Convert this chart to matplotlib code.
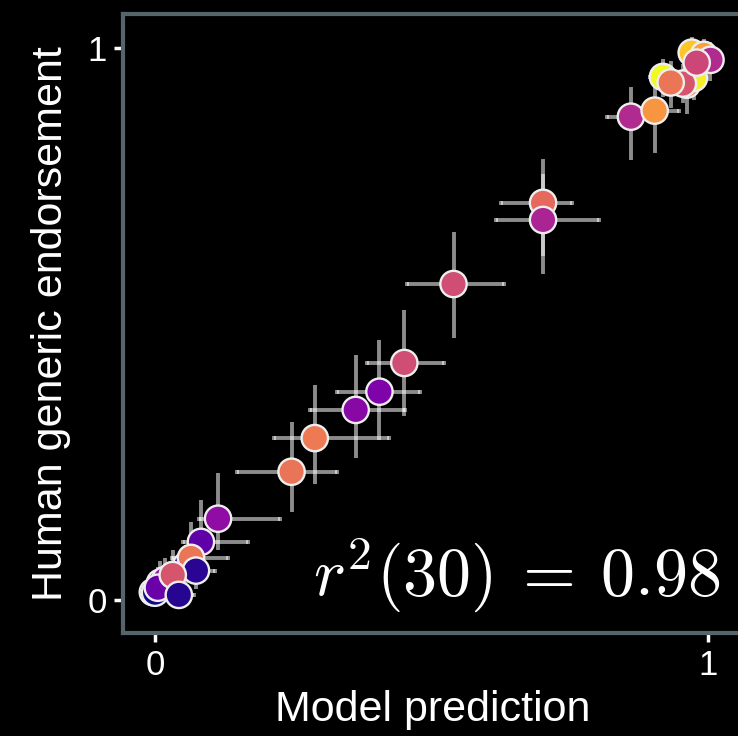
import matplotlib
matplotlib.use("Agg")
import matplotlib.pyplot as plt
import numpy as np

# Per-item model predictions vs. human generic endorsement (with interval bounds)
model = [-0.004, 0.009, 0.962, 0.984, 0.056, 0.018,
         0.702, 0.702, 0.540, 0.451, 0.406, 0.363, 0.289, 0.247,
         0.114, 0.083, 0.065, 0.074, 0.000, 0.005, 0.032, 0.043,
         0.861, 0.904, 0.919, 0.975, 0.955, 0.933, 0.971, 0.993,
         1.005, 0.980]
human = [0.014, 0.031, 0.933, 0.982, 0.062, 0.036,
         0.719, 0.688, 0.572, 0.429, 0.377, 0.344, 0.293, 0.232,
         0.147, 0.105, 0.076, 0.053, 0.013, 0.022, 0.045, 0.009,
         0.875, 0.886, 0.947, 0.945, 0.935, 0.937, 0.991, 0.987,
         0.978, 0.973]
model_lo = [-0.015, -0.005, 0.940, 0.965, 0.030, 0.000,
            0.626, 0.616, 0.455, 0.383, 0.329, 0.280, 0.215, 0.148,
            0.080, 0.050, 0.030, 0.045, -0.010, -0.010, 0.010, 0.020,
            0.818, 0.870, 0.895, 0.950, 0.930, 0.905, 0.950, 0.975,
            0.985, 0.960]
model_hi = [0.010, 0.030, 0.985, 1.000, 0.085, 0.040,
            0.754, 0.803, 0.632, 0.523, 0.480, 0.453, 0.424, 0.330,
            0.226, 0.168, 0.132, 0.108, 0.020, 0.025, 0.060, 0.070,
            0.900, 0.948, 0.940, 0.995, 0.975, 0.960, 0.990, 1.010,
            1.020, 1.000]
human_lo = [-0.005, 0.010, 0.880, 0.945, 0.030, 0.015,
            0.623, 0.591, 0.475, 0.333, 0.290, 0.257, 0.210, 0.159,
            0.090, 0.060, 0.040, 0.020, -0.005, 0.000, 0.010, -0.010,
            0.797, 0.810, 0.910, 0.905, 0.900, 0.890, 0.955, 0.945,
            0.940, 0.930]
human_hi = [0.040, 0.070, 0.965, 1.010, 0.100, 0.075,
            0.799, 0.772, 0.667, 0.525, 0.470, 0.444, 0.389, 0.322,
            0.230, 0.181, 0.141, 0.100, 0.050, 0.060, 0.090, 0.040,
            0.928, 0.930, 0.980, 0.985, 0.970, 0.975, 1.020, 1.015,
            1.010, 1.005]
shade = [0.08, 0.12, 0.72, 0.60, 0.10, 0.30,
         0.62, 0.38, 0.52, 0.52, 0.25, 0.28, 0.67, 0.65,
         0.30, 0.17, 0.66, 0.05, 0.00, 0.20, 0.55, 0.04,
         0.40, 0.75, 1.00, 0.98, 0.55, 0.66, 0.88, 0.78,
         0.40, 0.50]

x_ticks = [0, 1]
y_ticks = [0, 1]
stat_label = r"$r^2(30)\:=\:0.98$"

plt.rcParams["font.family"] = ["Liberation Sans", "DejaVu Sans"]
plt.rcParams["mathtext.fontset"] = "cm"

fig = plt.figure(figsize=(7.38, 7.36), dpi=100, facecolor="black")
ax = fig.add_axes([123 / 738, 103 / 736, 619 / 738, 619 / 736], facecolor="black")

x = np.array(model)
y = np.array(human)
xerr = np.vstack([x - np.array(model_lo), np.array(model_hi) - x])
yerr = np.vstack([y - np.array(human_lo), np.array(human_hi) - y])

bar_color = (1, 1, 1, 0.55)
ax.errorbar(x, y, xerr=xerr, fmt="none", ecolor=bar_color, elinewidth=2.8,
            capsize=1.6, capthick=2.8, zorder=1)
ax.errorbar(x, y, yerr=yerr, fmt="none", ecolor=bar_color, elinewidth=2.8,
            capsize=0, zorder=1)

cmap = plt.get_cmap("plasma")
ax.scatter(x, y, s=360, c=[cmap(v) for v in shade], edgecolors="#eeeeee",
           linewidths=1.7, zorder=3)

ax.text(1.022, 0.009, stat_label, ha="right", va="baseline", color="white",
        fontsize=49, zorder=5)

ax.set_xlim(-0.058, 1.062)
ax.set_ylim(-0.060, 1.061)
ax.set_xticks(x_ticks)
ax.set_yticks(y_ticks)
ax.set_xticklabels([str(t) for t in x_ticks])
ax.set_yticklabels([str(t) for t in y_ticks])
ax.tick_params(colors="white", labelcolor="white", labelsize=25, length=6.5,
               width=2.5, pad=5)

spine_color = "#56656b"
for side in ["left", "bottom", "top", "right"]:
    ax.spines[side].set_color(spine_color)
    ax.spines[side].set_linewidth(3)

ax.set_xlabel("Model prediction", color="white", fontsize=31, labelpad=6)
ax.set_ylabel("Human generic endorsement", color="white", fontsize=31, labelpad=12)

fig.savefig("out.png", dpi=100, facecolor="black")
